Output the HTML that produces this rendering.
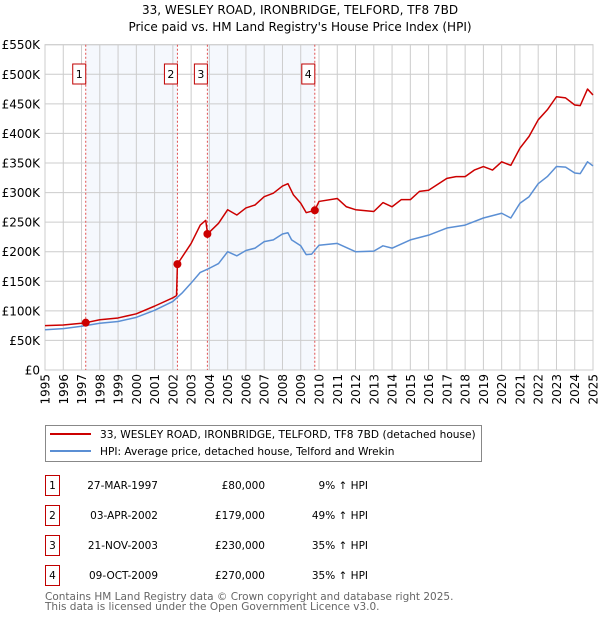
<!DOCTYPE html>
<html><head><meta charset="utf-8"><style>
body{margin:0;background:#fff;font-family:"DejaVu Sans","Liberation Sans",sans-serif;}
#wrap{position:relative;width:600px;height:620px;overflow:hidden;}
</style></head><body><div id="wrap">
<svg id="chart" width="600" height="620" xmlns="http://www.w3.org/2000/svg" font-family="DejaVu Sans, Liberation Sans, sans-serif"></svg>
</div>
<script>
const yTicks=[0,50,100,150,200,250,300,350,400,450,500,550];
const yTickLabels=["£0","£50K","£100K","£150K","£200K","£250K","£300K","£350K","£400K","£450K","£500K","£550K"];
const xYears=[1995,1996,1997,1998,1999,2000,2001,2002,2003,2004,2005,2006,2007,2008,2009,2010,2011,2012,2013,2014,2015,2016,2017,2018,2019,2020,2021,2022,2023,2024,2025];
const hpiT=[1995,1996,1997,1998,1999,2000,2001,2002,2002.5,2003,2003.5,2004,2004.5,2005,2005.5,2006,2006.5,2007,2007.5,2008,2008.3,2008.5,2009,2009.3,2009.6,2010,2011,2012,2013,2013.5,2014,2015,2016,2017,2018,2019,2020,2020.5,2021,2021.5,2022,2022.5,2023,2023.5,2024,2024.3,2024.7,2025];
const hpiV=[68,70,74,79,82,89,101,116,130,147,165,172,180,200,193,202,206,217,220,230,232,220,210,195,196,211,214,200,201,210,206,220,228,240,245,257,265,257,282,293,315,327,344,343,333,332,352,345];
const priceT=[1995,1996,1997,1997.23,1998,1999,2000,2001,2002,2002.2,2002.25,2003,2003.5,2003.8,2003.9,2004.5,2005,2005.5,2006,2006.5,2007,2007.5,2008,2008.3,2008.6,2009,2009.3,2009.77,2010,2011,2011.5,2012,2013,2013.5,2014,2014.5,2015,2015.5,2016,2017,2017.5,2018,2018.5,2019,2019.5,2020,2020.5,2021,2021.5,2022,2022.5,2023,2023.5,2024,2024.3,2024.7,2025];
const priceV=[75,76,79,80,85,88,95,108,122,126,179,214,245,253,230,248,271,262,274,279,293,299,311,315,296,282,266,270,285,290,276,271,268,283,276,288,288,302,304,324,327,327,338,344,338,352,346,375,395,423,440,462,460,448,447,475,465];
const saleT=[1997.23,2002.25,2003.89,2009.77];
const saleV=[80,179,230,270];
const saleLabels=["1","2","3","4"];
const L=45,R=593,T=44.7,B=370;
const x=t=>L+(t-1995)/30*(R-L);
const y=v=>B-v/550*(B-T);
const svg=document.getElementById('chart');
const NS='http://www.w3.org/2000/svg';
function mk(tag,attrs,parent){const e=document.createElementNS(NS,tag);for(const k in attrs)e.setAttribute(k,attrs[k]);(parent||svg).appendChild(e);return e;}
function txt(s,attrs){const e=mk('text',attrs);e.textContent=s;return e;}
let t1=txt("33, WESLEY ROAD, IRONBRIDGE, TELFORD, TF8 7BD",{x:300,y:14,'text-anchor':'middle','font-size':12});

let t2=txt("Price paid vs. HM Land Registry's House Price Index (HPI)",{x:300,y:31,'text-anchor':'middle','font-size':12});

for(const [a,b] of [[0,1],[2,3]]){const r=mk('rect',{x:x(saleT[a]),y:T,width:x(saleT[b])-x(saleT[a]),height:B-T,fill:'#eef3fc','fill-opacity':0.6});
}
yTicks.forEach((v,i)=>{const g=mk('line',{x1:L,x2:R,y1:y(v),y2:y(v),stroke:'#ccc','stroke-width':1});

const l=txt(yTickLabels[i],{x:40,y:y(v)+4.5,'text-anchor':'end','font-size':12});
});
xYears.forEach(yr=>{const g=mk('line',{x1:x(yr),x2:x(yr),y1:T,y2:B,stroke:'#ccc','stroke-width':1});

const l=txt(String(yr),{x:0,y:0,'text-anchor':'end','font-size':12,transform:`translate(${x(yr)+4.5},374) rotate(-90)`});
});
const fr=mk('rect',{x:L,y:T,width:R-L,height:B-T,fill:'none',stroke:'#ccc'});

saleT.forEach((s,i)=>{const d=mk('line',{x1:x(s),x2:x(s),y1:T,y2:B,stroke:'#e05050','stroke-width':1,'stroke-dasharray':'2,2'});

const bx=x(s)-13;const r=mk('rect',{x:bx,y:64,width:13,height:20,fill:'#fff',stroke:'#c00000'});

const tl=txt(saleLabels[i],{x:bx+6.5,y:78,'text-anchor':'middle','font-size':11});
});
const hp=mk('polyline',{points:hpiT.map((t,i)=>x(t)+','+y(hpiV[i])).join(' '),fill:'none',stroke:'#5b8fd4','stroke-width':1.5,'stroke-linejoin':'round'});

const pp=mk('polyline',{points:priceT.map((t,i)=>x(t)+','+y(priceV[i])).join(' '),fill:'none',stroke:'#cc0000','stroke-width':1.5,'stroke-linejoin':'round'});

saleT.forEach((s,i)=>{const c=mk('circle',{cx:x(s),cy:y(saleV[i]),r:4,fill:'#cc0000'});
});
const lg=mk('rect',{x:45.5,y:425.5,width:436,height:36,fill:'#fff',stroke:'#888'});

let ll=mk('line',{x1:50,x2:91,y1:434,y2:434,stroke:'#cc0000','stroke-width':2});

let lt=txt("33, WESLEY ROAD, IRONBRIDGE, TELFORD, TF8 7BD (detached house)",{x:100,y:438,'font-size':10.6});

ll=mk('line',{x1:50,x2:91,y1:451,y2:451,stroke:'#5b8fd4','stroke-width':2});

lt=txt("HPI: Average price, detached house, Telford and Wrekin",{x:100,y:455,'font-size':10.6});

const dates=["27-MAR-1997","03-APR-2002","21-NOV-2003","09-OCT-2009"];
const prices=["£80,000","£179,000","£230,000","£270,000"];
const pcts=["9% ↑ HPI","49% ↑ HPI","35% ↑ HPI","35% ↑ HPI"];
dates.forEach((d,i)=>{const yy=476+i*30;
const b=mk('rect',{x:45.5,y:yy-0.5,width:14,height:20,fill:'#fff',stroke:'#c00000'});

let e=txt(saleLabels[i],{x:52.5,y:yy+13,'text-anchor':'middle','font-size':10.5});

e=txt(d,{x:158,y:yy+13,'text-anchor':'end','font-size':10.5});

e=txt(prices[i],{x:265,y:yy+13,'text-anchor':'end','font-size':10.5});

e=txt(pcts[i],{x:368,y:yy+13,'text-anchor':'end','font-size':10.5});
});
let f=txt("Contains HM Land Registry data © Crown copyright and database right 2025.",{x:45,y:600,'font-size':10.5,fill:'#666'});

f=txt("This data is licensed under the Open Government Licence v3.0.",{x:45,y:610,'font-size':10.5,fill:'#666'});

</script></body></html>
